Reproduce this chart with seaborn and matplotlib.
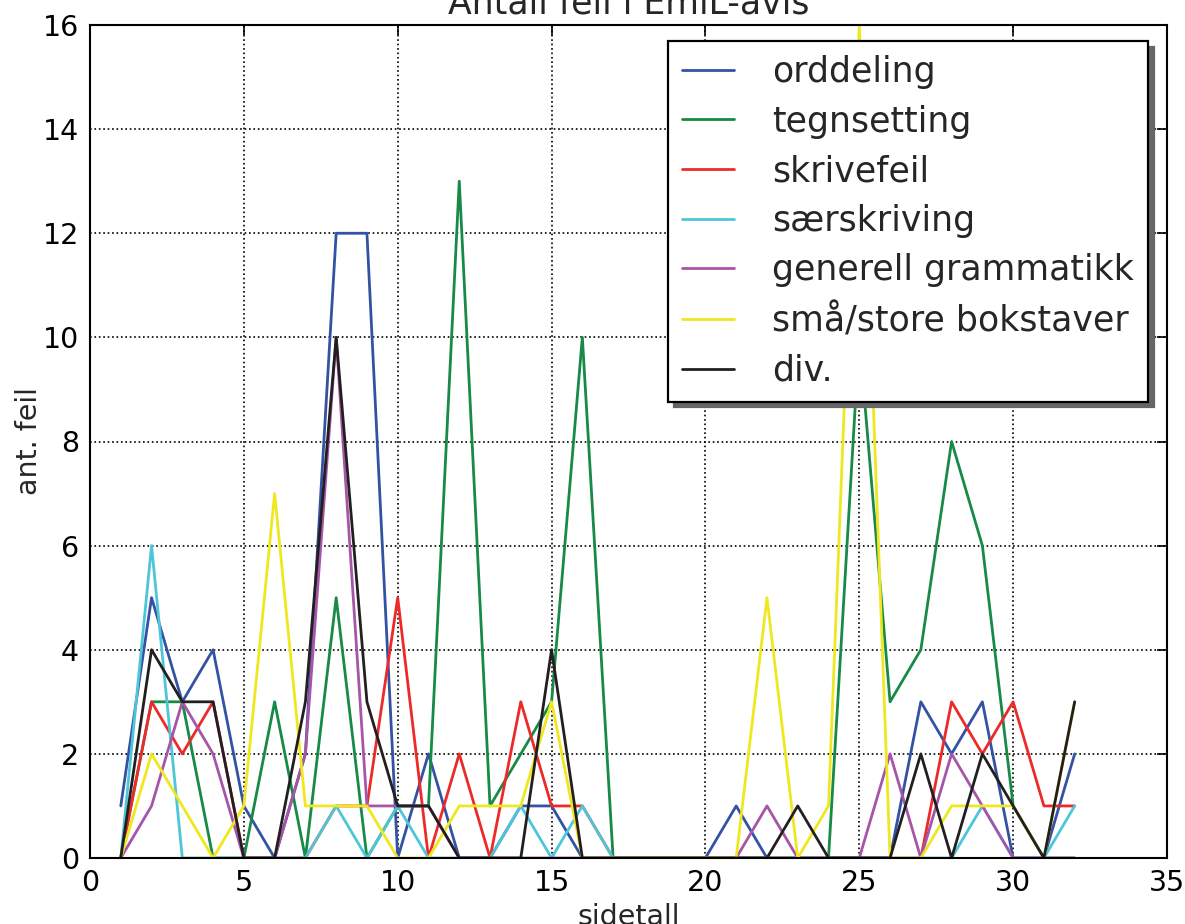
import matplotlib
matplotlib.use("Agg")
import matplotlib.pyplot as plt
import seaborn as sns
import pandas as pd

sidetall = list(range(1, 33))
orddeling = [1, 5, 3, 4, 1, 0, 2, 12, 12, 0, 2, 0, 0, 1, 1, 0, 0, 0, 0, 0, 1, 0, 0, 0, 0, 0, 3, 2, 3, 0, 0, 2]
tegnsetting = [0, 3, 3, 0, 0, 3, 0, 5, 0, 1, 1, 13, 1, 2, 3, 10, 0, 0, 0, 0, 0, 0, 0, 0, 10, 3, 4, 8, 6, 1, 0, 0]
skrivefeil = [0, 3, 2, 3, 0, 0, 0, 1, 1, 5, 0, 2, 0, 3, 1, 1, 0, 0, 0, 0, 0, 0, 0, 0, 0, 0, 0, 3, 2, 3, 1, 1]
saerskriving = [0, 6, 0, 0, 0, 0, 0, 1, 0, 1, 0, 0, 0, 1, 0, 1, 0, 0, 0, 0, 0, 0, 0, 0, 0, 0, 0, 0, 1, 0, 0, 1]
generell = [0, 1, 3, 2, 0, 0, 2, 10, 1, 1, 1, 0, 0, 0, 0, 0, 0, 0, 0, 0, 0, 1, 0, 0, 0, 2, 0, 2, 1, 0, 0, 0]
smaastore = [0, 2, 1, 0, 1, 7, 1, 1, 1, 0, 0, 1, 1, 1, 3, 0, 0, 0, 0, 0, 0, 5, 0, 1, 16, 0, 0, 1, 1, 1, 0, 3]
div = [0, 4, 3, 3, 0, 0, 3, 10, 3, 1, 1, 0, 0, 0, 4, 0, 0, 0, 0, 0, 0, 0, 1, 0, 0, 0, 2, 0, 2, 1, 0, 3]

labels = ["orddeling", "tegnsetting", "skrivefeil", "særskriving",
          "generell grammatikk", "små/store bokstaver", "div."]
series = [orddeling, tegnsetting, skrivefeil, saerskriving, generell, smaastore, div]
colors = ["#3452a4", "#168a46", "#ed2a2a", "#4ec5d8", "#a655a8", "#efe71f", "#231f20"]

sns.set_style("white")
plt.rcParams["font.family"] = ["DejaVu Sans"]

fig = plt.figure(figsize=(11.85, 9.24), dpi=100)
ax = fig.add_axes([90 / 1185, (924 - 858) / 924, 1077 / 1185, 833 / 924])

for lab, vals, col in zip(labels, series, colors):
    df = pd.DataFrame({"sidetall": sidetall, "feil": vals})
    sns.lineplot(data=df, x="sidetall", y="feil", ax=ax, color=col,
                 linewidth=2.0, label=lab, legend=False)

ax.set_xlim(0, 35)
ax.set_ylim(0, 16)
ax.set_xticks(range(0, 36, 5))
ax.set_yticks(range(0, 17, 2))
ax.grid(True, linestyle=":", color="black", linewidth=1.2)
ax.tick_params(direction="in", length=7, width=1.2, top=True, right=True,
               labelsize=20.5, pad=8, colors="black")
for s in ax.spines.values():
    s.set_visible(True)
    s.set_color("black")
    s.set_linewidth(1.5)

ax.set_title("Antall feil i EmiL-avis", fontsize=25, pad=8)
ax.set_xlabel("sidetall", fontsize=20.5, labelpad=4)
ax.set_ylabel("ant. feil", fontsize=20.5, labelpad=0)

handles = ax.get_lines()[:len(labels)]
shadow_opts = {"ox": 4, "oy": -4, "color": "#666666", "alpha": 1}
leg = ax.legend(handles, labels, loc="upper right",
                bbox_to_anchor=(0.9824, 0.9808), borderaxespad=0,
                fontsize=25, frameon=True, fancybox=False, framealpha=1,
                edgecolor="black", shadow=shadow_opts,
                handlelength=1.5, handletextpad=1.1, labelspacing=0.45,
                borderpad=0.4)
leg.get_frame().set_linewidth(1.6)

fig.savefig("out.png", dpi=100)
